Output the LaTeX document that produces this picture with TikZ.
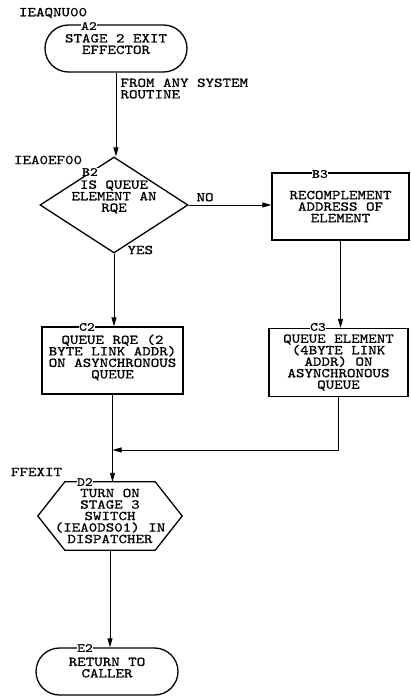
\documentclass[tikz,border=0pt]{standalone}
\usepackage{fontspec}
\usetikzlibrary{arrows.meta,shapes.geometric,shapes.misc}
\newfontfamily\ibmfont[FakeStretch=1.2,FakeBold=0.8]{lmmono10-regular.otf}
\begin{document}
\begin{tikzpicture}[x=1pt, y=-1pt,
    every node/.style={font={\ibmfont\fontsize{13.5}{11.5}\selectfont}, align=center},
    shp/.style={draw, line width=1.3pt, inner sep=0pt},
    term/.style={shp, rounded rectangle, minimum width=142pt, minimum height=47pt},
    box/.style={shp, rectangle, minimum width=139pt, minimum height=68pt},
    tag/.style={fill=white, inner sep=0.5pt, font={\ibmfont\fontsize{12.5}{12}\selectfont}},
    flow/.style={line width=0.9pt, -{Triangle[length=9pt, width=5pt]}}]
  \useasboundingbox (0,0) rectangle (410,696);
  \def\chamf{27}
  \node[term, text depth=9pt] (A2) at (116,48.5) {STAGE 2 EXIT\\EFFECTOR};
  \node[shp, diamond, aspect=1.54, minimum width=148pt, minimum height=96pt,
    label={[yshift=8pt]center:IS QUEUE\\ELEMENT AN\\RQE}] (B2) at (114,205) {};
  \node[box, minimum width=137pt, minimum height=67pt] (B3) at (340.5,206.5)
    {RECOMPLEMENT\\ADDRESS OF\\ELEMENT};
  \node[box, minimum width=141pt, minimum height=67pt, text depth=8pt] (C2) at (112.5,360.5)
    {QUEUE RQE (2\\BYTE LINK ADDR)\\ON ASYNCHRONOUS\\QUEUE};
  \node[box] (C3) at (338.5,362.5)
    {QUEUE ELEMENT\\(4BYTE LINK\\ADDR) ON\\ASYNCHRONOUS\\QUEUE};
  \node[inner sep=0pt, minimum width=144pt, minimum height=68pt] (D2) at (110,516)
    {TURN ON\\STAGE 3\\SWITCH\\(IEA0DS01) IN\\DISPATCHER};
  \draw[shp] ([xshift=\chamf pt]D2.north west) -- ([xshift=-\chamf pt]D2.north east)
    -- (D2.east) -- ([xshift=-\chamf pt]D2.south east)
    -- ([xshift=\chamf pt]D2.south west) -- (D2.west) -- cycle;
  \node[term, text depth=8pt] (E2) at (107,671.5) {RETURN TO\\CALLER};
  \node[tag] (tA2) at (89,26) {A2};
  \node[tag] (tB2) at (90,172) {B2};
  \node[tag] (tB3) at (320,174) {B3};
  \node[tag] (tC2) at (87,327) {C2};
  \node[tag] (tC3) at (318,327) {C3};
  \node[tag] (tD2) at (85,482) {D2};
  \node[tag] (tE2) at (85,648) {E2};
  \node[anchor=west] (nA2) at (15.5,13) {IEAQNU00};
  \node[anchor=west] (nB2) at (10.5,160) {IEA0EF00};
  \node[anchor=west] (nD2) at (7.5,472) {FFEXIT};
  \draw[flow] (A2.south) -- (A2.south |- B2.north);
  \node[anchor=north west, align=left] (from) at (117,75) {FROM ANY SYSTEM\\ROUTINE};
  \draw[flow] (B2.east) -- (B2.east -| B3.west);
  \node[anchor=south west] (no) at (193,205) {NO};
  \draw[flow] (B2.south) -- (B2.south |- C2.north);
  \node[anchor=west] (yes) at (124,250) {YES};
  \draw[flow] (B3.south) -- (B3.south |- C3.north);
  \draw[flow] (C2.south) -- (C2.south |- D2.north);
  \coordinate (mrg) at (C2.south |- 0,450);
  \draw[flow] (C3.south) |- (mrg);
  \draw[flow] (D2.south) -- (D2.south |- E2.north);
\end{tikzpicture}
\end{document}
